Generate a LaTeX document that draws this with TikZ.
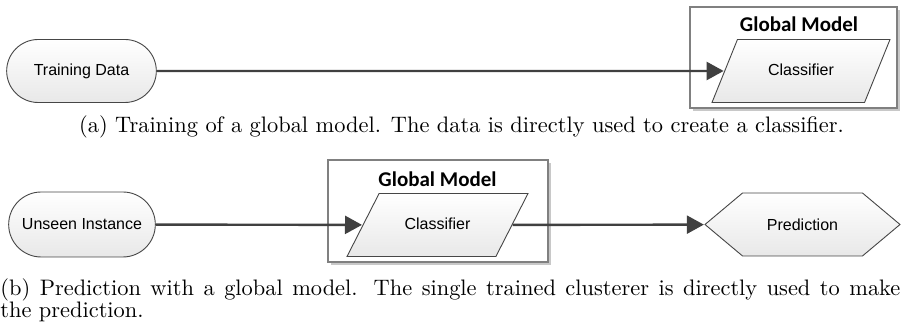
\documentclass[tikz,border=0pt]{standalone}
\usepackage{fontspec}
\usepackage{tikz}
\usetikzlibrary{positioning,arrows.meta,shapes.misc,shapes.geometric,shapes.symbols,shadows}
\newfontfamily\shapefont{Liberation Sans}
\newfontfamily\titlefont{Carlito}
\newfontfamily\capfont{lmroman10-regular}[Extension=.otf]
\definecolor{gmLine}{RGB}{70,70,70}
\definecolor{gmArrow}{RGB}{64,64,64}
\definecolor{gmBox}{RGB}{128,128,128}
\definecolor{gmShadow}{RGB}{200,200,200}
\definecolor{gmFill}{RGB}{232,232,232}

\begin{document}
\begin{tikzpicture}[x=0.5pt,y=-0.5pt,
  terminal/.style={rounded rectangle, draw=gmLine, line width=0.45pt, top color=white, bottom color=gmFill,
    font=\shapefont\fontsize{8}{9}\selectfont, minimum width=81.5pt, minimum height=31.5pt},
  dataio/.style={trapezium, trapezium left angle=68, trapezium right angle=112, trapezium stretches body,
    draw=gmLine, line width=0.45pt, top color=white, bottom color=gmFill,
    font=\shapefont\fontsize{8}{9}\selectfont, text height=6.5pt, text depth=1.5pt, inner ysep=11.75pt,
    minimum width=89pt},
  result/.style={signal, signal to=east and west, signal pointer angle=80, draw=gmLine, line width=0.45pt,
    top color=white, bottom color=gmFill, font=\shapefont\fontsize{8}{9}\selectfont,
    minimum width=97.5pt, minimum height=31.5pt},
  modelbox/.style={draw=gmBox, line width=0.6pt, fill=white,
    drop shadow={shadow xshift=1.5pt, shadow yshift=-1.5pt, fill=gmShadow, opacity=1}},
  modeltitle/.style={font=\titlefont\bfseries\fontsize{10.5}{12}\selectfont, inner sep=0pt},
  caption/.style={font=\capfont\fontsize{11.2}{11}\selectfont, inner sep=0pt},
  flow/.style={-{Triangle[length=8.5pt,width=9pt]}, gmArrow, line width=1.2pt, shorten >=0.3pt}]
  \useasboundingbox (0,0) rectangle (901,325);

  % (a) training
  \node[terminal] (train) at (81.5,71) {Training Data};
  \node[modelbox, minimum width=103.5pt, minimum height=50.5pt] (gmA) at (793.5,57.5) {};
  \node[modeltitle] (gmAtitle) at (799,24) {Global Model};
  \node[dataio] (clsA) at (801,71) {Classifier};
  \draw[flow] (train) -- (clsA);
  \node[caption, anchor=base] (capA) at (461.5,133) {(a) Training of a global model. The data is directly used to create a classifier.};

  % (b) prediction
  \node[terminal, minimum width=80pt, minimum height=32.5pt] (unseen) at (82,224.5) {Unseen Instance};
  \node[modelbox, minimum width=110pt, minimum height=51pt] (gmB) at (438,211) {};
  \node[modeltitle] (gmBtitle) at (437.5,179) {Global Model};
  \node[dataio, trapezium left angle=63, trapezium right angle=117, minimum width=90.5pt] (clsB) at (437.5,225) {Classifier};
  \node[result] (pred) at (802.5,224.5) {Prediction};
  \draw[flow] (unseen) -- (clsB);
  \draw[flow] (clsB) -- (pred);
  \node[caption, anchor=base west, text width=450pt, align=justify] (capB) at (0,296)
    {(b) Prediction with a global model. The single trained clusterer is directly used to make\linebreak the prediction.};
\end{tikzpicture}
\end{document}
